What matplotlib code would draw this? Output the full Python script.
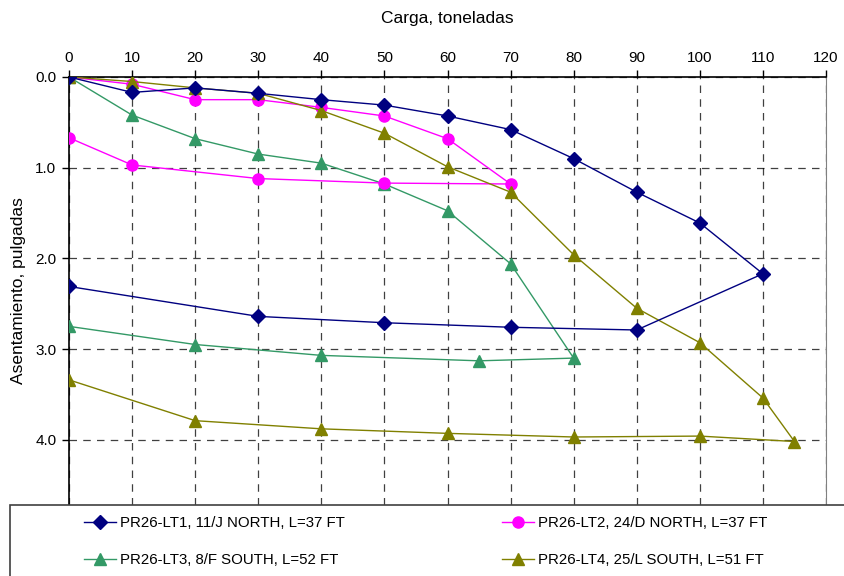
import matplotlib
matplotlib.use("Agg")
import matplotlib.pyplot as plt
from matplotlib.patches import Rectangle

plt.rcParams['font.family'] = ['Liberation Sans', 'DejaVu Sans']

# load test curves: carga (ton) vs asentamiento (in), loading then unloading
lt1_x = [0, 10, 20, 30, 40, 50, 60, 70, 80, 90, 100, 110, 90, 70, 50, 30, 0]
lt1_y = [0.0, 0.17, 0.12, 0.18, 0.25, 0.31, 0.43, 0.58, 0.90, 1.27, 1.61, 2.17,
         2.79, 2.76, 2.71, 2.64, 2.31]

lt2_x = [0, 10, 20, 30, 40, 50, 60, 70, 50, 30, 10, 0]
lt2_y = [0.0, 0.08, 0.25, 0.25, 0.335, 0.43, 0.68, 1.18, 1.17, 1.12, 0.97, 0.67]

lt3_x = [0, 10, 20, 30, 40, 50, 60, 70, 80, 65, 40, 20, 0]
lt3_y = [0.0, 0.42, 0.68, 0.85, 0.95, 1.18, 1.475, 2.06, 3.10, 3.13, 3.07, 2.95, 2.75]

lt4_x = [0, 10, 20, 30, 40, 50, 60, 70, 80, 90, 100, 110, 115, 100, 80, 60, 40, 20, 0]
lt4_y = [0.0, 0.05, 0.12, 0.18, 0.37, 0.62, 0.99, 1.27, 1.96, 2.55, 2.93, 3.54, 4.02,
         3.96, 3.97, 3.93, 3.88, 3.79, 3.34]

labels = ["PR26-LT1, 11/J NORTH, L=37 FT", "PR26-LT2, 24/D NORTH, L=37 FT",
          "PR26-LT3, 8/F SOUTH, L=52 FT", "PR26-LT4, 25/L SOUTH, L=51 FT"]

W, H = 844, 576
fig = plt.figure(figsize=(W / 100, H / 100), dpi=100)
ax = fig.add_axes([69 / W, 1 - 505 / H, (826 - 69) / W, (505 - 77) / H])

l1, = ax.plot(lt1_x, lt1_y, color="#000080", marker="D", ms=7, lw=1.0, zorder=5)
l2, = ax.plot(lt2_x, lt2_y, color="#FF00FF", marker="o", ms=8, lw=1.0, zorder=4)
l3, = ax.plot(lt3_x, lt3_y, color="#339966", marker="^", ms=8, lw=1.0, zorder=3)
l4, = ax.plot(lt4_x, lt4_y, color="#808000", marker="^", ms=9, lw=1.0, zorder=4)

ax.set_xlim(0, 120)
ax.set_ylim(4.72, 0)
ax.set_xticks(range(0, 121, 10))
ax.set_yticks([0, 1, 2, 3, 4])
ax.set_yticklabels(["0.0", "1.0", "2.0", "3.0", "4.0"])
ax.xaxis.tick_top()
ax.tick_params(axis="both", labelsize=11, length=5, width=1, color="black", pad=4)
ax.xaxis.grid(True, color="black", linestyle=(0, (6, 5)), lw=0.9, alpha=0.75)
ax.yaxis.grid(True, color="black", linestyle=(0, (6, 5)), lw=0.9, alpha=0.75)
ax.spines["bottom"].set_visible(False)
ax.spines["right"].set_color("#808080")
ax.spines["top"].set_linewidth(1.2)
ax.spines["left"].set_linewidth(1.2)

fig.text(447 / W, 1 - 18 / H, "Carga, toneladas", ha="center", va="center", fontsize=12.5)
fig.text(19 / W, 1 - 291 / H, "Asentamiento, pulgadas", ha="center", va="center",
         rotation=90, fontsize=12.5)

# legend box across the bottom
fig.patches.append(Rectangle((10 / W, -0.05), 1.0, 0.05 + (576 - 505) / H,
                             transform=fig.transFigure, facecolor="white",
                             edgecolor="#404040", lw=1.2, zorder=10))
fig.legend([l1, l3, l2, l4], [labels[0], labels[2], labels[1], labels[3]],
           ncol=2, loc="upper left", bbox_to_anchor=(84 / W, 1 - 516 / H),
           frameon=False, fontsize=10.8, borderpad=0, borderaxespad=0,
           handlelength=2.1, handletextpad=0.3, labelspacing=1.55,
           columnspacing=10.5).set_zorder(11)

fig.savefig("out.png", dpi=100)
